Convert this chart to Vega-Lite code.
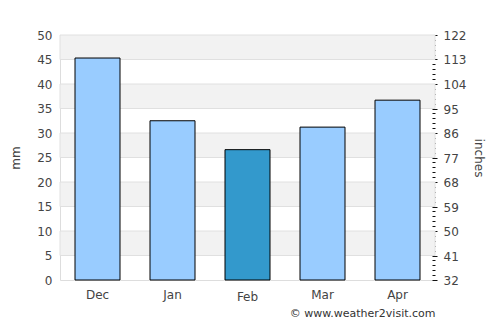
{
  "$schema": "https://vega.github.io/schema/vega-lite/v6.json",
  "width": 375,
  "height": 245,
  "autosize": "none",
  "padding": {"left": 60, "top": 35, "right": 65, "bottom": 45},
  "background": "white",
  "config": {
    "view": {"stroke": null},
    "font": "DejaVu Sans",
    "axis": {"labelFont": "DejaVu Sans", "titleFont": "DejaVu Sans", "labelColor": "#444", "titleColor": "#444", "labelFontSize": 12, "titleFontSize": 12, "titleFontWeight": "normal"}
  },
  "datasets": {
    "rain": [
      {"month": "Dec", "mm": 45.3, "sel": "no"},
      {"month": "Jan", "mm": 32.5, "sel": "no"},
      {"month": "Feb", "mm": 26.6, "sel": "yes"},
      {"month": "Mar", "mm": 31.2, "sel": "no"},
      {"month": "Apr", "mm": 36.7, "sel": "no"}
    ],
    "bands": [
      {"lo": 5, "hi": 10},
      {"lo": 15, "hi": 20},
      {"lo": 25, "hi": 30},
      {"lo": 35, "hi": 40},
      {"lo": 45, "hi": 50}
    ],
    "right": [{"v": 32}, {"v": 122}]
  },
  "layer": [
    {
      "data": {"name": "bands"},
      "mark": {"type": "rect", "fill": "#f2f2f2", "stroke": "#e0e0e0", "strokeWidth": 1},
      "encoding": {
        "y": {"field": "lo", "type": "quantitative", "scale": {"domain": [0, 50], "nice": false}, "axis": null},
        "y2": {"field": "hi"}
      }
    },
    {
      "data": {"name": "rain"},
      "mark": {"type": "bar", "stroke": "black", "strokeWidth": 1},
      "encoding": {
        "x": {
          "field": "month", "type": "nominal", "sort": null,
          "scale": {"paddingInner": 0.4, "paddingOuter": 0.2},
          "axis": {
            "title": "© www.weather2visit.com", "titleAnchor": "end", "titleAlign": "right", "titleFontSize": 11, "titleColor": "#333", "titlePadding": 5,
            "labelAngle": 0, "ticks": false,
            "labelPadding": {"condition": {"test": "datum.value == 'Feb'", "value": 11}, "value": 9},
            "domainColor": "#dddddd", "labelColor": "#444"
          }
        },
        "y": {
          "field": "mm", "type": "quantitative",
          "scale": {"domain": [0, 50], "nice": false},
          "axis": {"title": "mm", "values": [0, 5, 10, 15, 20, 25, 30, 35, 40, 45, 50], "grid": false, "ticks": false, "domain": true, "domainColor": "#dddddd", "labelPadding": 8, "titlePadding": 14}
        },
        "color": {
          "field": "sel", "type": "nominal", "legend": null,
          "scale": {"domain": ["no", "yes"], "range": ["#99ccff", "#3399cc"]}
        }
      }
    },
    {
      "data": {"name": "right"},
      "mark": {"type": "point", "opacity": 0},
      "encoding": {
        "y": {
          "field": "v", "type": "quantitative",
          "scale": {"domain": [32, 122], "nice": false, "zero": false, "round": true},
          "axis": {
            "orient": "right", "title": "inches", "titlePadding": 6,
            "values": [32,33.8,35.6,37.4,39.2,41,42.8,44.6,46.4,48.2,50,51.8,53.6,55.4,57.2,59,60.8,62.6,64.4,66.2,68,69.8,71.6,73.4,75.2,77,78.8,80.6,82.4,84.2,86,87.8,89.6,91.4,93.2,95,96.8,98.6,100.4,102.2,104,105.8,107.6,109.4,111.2,113,114.8,116.6,118.4,120.2,122],
            "labelExpr": "abs(round((datum.value - 32) / 9) * 9 - (datum.value - 32)) < 0.01 ? format(datum.value, 'd') : ''",
            "labelOverlap": false, "labelBound": false, "labelFlush": false,
            "domain": false, "tickColor": "#111", "tickWidth": 1,
            "tickSize": {"condition": {"test": "abs(round((datum.value - 32) / 9) * 9 - (datum.value - 32)) < 0.01", "value": 5}, "value": 3},
            "offset": -3, "labelPadding": 6, "grid": false
          }
        }
      }
    }
  ],
  "resolve": {"scale": {"y": "independent"}}
}
